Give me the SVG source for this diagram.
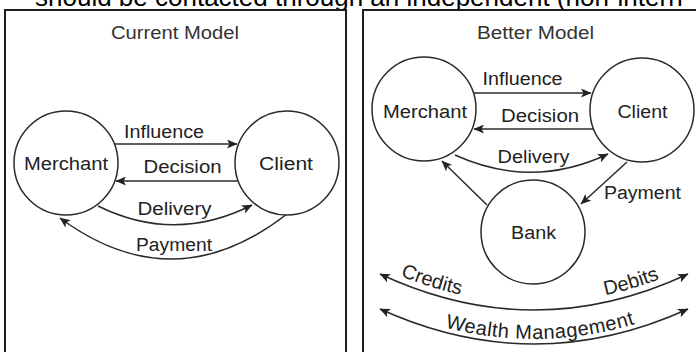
<svg xmlns="http://www.w3.org/2000/svg" width="696" height="352" viewBox="0 0 696 352">
  <style>
    .frame { fill: none; stroke: #1e1e1e; stroke-width: 2; }
    .node { fill: #ffffff; stroke: #2a2a2a; stroke-width: 1.5; }
    .edge { fill: none; stroke: #2a2a2a; stroke-width: 1.5; }
    .lbl { font-family: "Liberation Sans", Arial, Helvetica, sans-serif; font-size: 18px; fill: #222222; }
    .mid { text-anchor: middle; }
    .title { font-family: "Liberation Sans", Arial, Helvetica, sans-serif; font-size: 18px; fill: #333333; text-anchor: middle; }
    .curved { font-family: "Liberation Sans", Arial, Helvetica, sans-serif; font-size: 20px; fill: #222222; }
    .top { font-family: "Liberation Sans", Arial, Helvetica, sans-serif; font-size: 26px; fill: #000000; }
  </style>
  <defs>
    <marker id="ah" markerUnits="userSpaceOnUse" markerWidth="11" markerHeight="9" refX="10" refY="4.5" orient="auto-start-reverse" viewBox="0 0 11 9">
      <path d="M0,0 L10.5,4.5 L0,9 L2.5,4.5 z" fill="#222222"/>
    </marker>
    <path id="tpUpper" d="M 380,267 Q 534,339 688,267"/>
    <path id="tpLower" d="M 380,304 Q 534,374 688,304"/>
  </defs>

  <rect width="696" height="352" fill="#ffffff"/>

  <text class="top" x="35" y="6">should be contacted through an independent (non-intern</text>

  <g id="panel-current">
    <rect class="frame" x="5" y="10" width="341" height="360"/>
    <text class="title" x="175" y="39" textLength="128" lengthAdjust="spacingAndGlyphs">Current Model</text>
  </g>
  <g id="panel-better">
    <rect class="frame" x="363" y="10" width="360" height="360"/>
    <text class="title" x="535.5" y="39" textLength="117" lengthAdjust="spacingAndGlyphs">Better Model</text>
  </g>

  <g id="connectors">
    <!-- Current model -->
    <line class="edge" x1="115" y1="144" x2="237" y2="144" marker-end="url(#ah)"/>
    <line class="edge" x1="238" y1="181" x2="116" y2="181" marker-end="url(#ah)"/>
    <path class="edge" d="M 98,206 Q 175,244 252,205" marker-end="url(#ah)"/>
    <path class="edge" d="M 287,214 Q 174,302 60,218" marker-end="url(#ah)"/>
    <!-- Better model -->
    <line class="edge" x1="474" y1="93" x2="591" y2="93" marker-end="url(#ah)"/>
    <line class="edge" x1="593" y1="129" x2="474" y2="129" marker-end="url(#ah)"/>
    <path class="edge" d="M 455,155 Q 532,190 608,154" marker-end="url(#ah)"/>
    <line class="edge" x1="487" y1="205" x2="442" y2="161" marker-end="url(#ah)"/>
    <line class="edge" x1="627" y1="162" x2="581" y2="204" marker-end="url(#ah)"/>
    <path class="edge" d="M 380,274 Q 534,346 688,274" marker-start="url(#ah)" marker-end="url(#ah)"/>
    <path class="edge" d="M 380,309 Q 534,379 688,309" marker-start="url(#ah)" marker-end="url(#ah)"/>

    <text class="lbl mid" x="164" y="138" textLength="80" lengthAdjust="spacingAndGlyphs">Influence</text>
    <text class="lbl mid" x="182.5" y="173" textLength="78" lengthAdjust="spacingAndGlyphs">Decision</text>
    <text class="lbl mid" x="174.5" y="215" textLength="74" lengthAdjust="spacingAndGlyphs">Delivery</text>
    <text class="lbl mid" x="174" y="251" textLength="76" lengthAdjust="spacingAndGlyphs">Payment</text>

    <text class="lbl mid" x="522.5" y="85" textLength="80" lengthAdjust="spacingAndGlyphs">Influence</text>
    <text class="lbl mid" x="540" y="122" textLength="78" lengthAdjust="spacingAndGlyphs">Decision</text>
    <text class="lbl mid" x="533.5" y="163" textLength="72" lengthAdjust="spacingAndGlyphs">Delivery</text>
    <text class="lbl" x="604" y="199" textLength="77" lengthAdjust="spacingAndGlyphs">Payment</text>

    <text class="curved"><textPath href="#tpUpper" startOffset="22">Credits</textPath></text>
    <text class="curved" text-anchor="end"><textPath href="#tpUpper" startOffset="288">Debits</textPath></text>
    <text class="curved" text-anchor="middle" letter-spacing="0.5"><textPath href="#tpLower" startOffset="52%">Wealth Management</textPath></text>
  </g>

  <g id="node-merchant-current">
    <circle class="node" cx="66" cy="163" r="52"/>
    <text class="lbl mid" x="66" y="170" textLength="84" lengthAdjust="spacingAndGlyphs">Merchant</text>
  </g>
  <g id="node-client-current">
    <circle class="node" cx="287" cy="163" r="52"/>
    <text class="lbl mid" x="286" y="170" textLength="54" lengthAdjust="spacingAndGlyphs">Client</text>
  </g>
  <g id="node-merchant-better">
    <circle class="node" cx="424" cy="109" r="52"/>
    <text class="lbl mid" x="425" y="118" textLength="84" lengthAdjust="spacingAndGlyphs">Merchant</text>
  </g>
  <g id="node-client-better">
    <circle class="node" cx="642" cy="110" r="52"/>
    <text class="lbl mid" x="642.5" y="118" textLength="50" lengthAdjust="spacingAndGlyphs">Client</text>
  </g>
  <g id="node-bank">
    <circle class="node" cx="533" cy="232" r="52"/>
    <text class="lbl mid" x="533.5" y="239" textLength="45" lengthAdjust="spacingAndGlyphs">Bank</text>
  </g>
</svg>
